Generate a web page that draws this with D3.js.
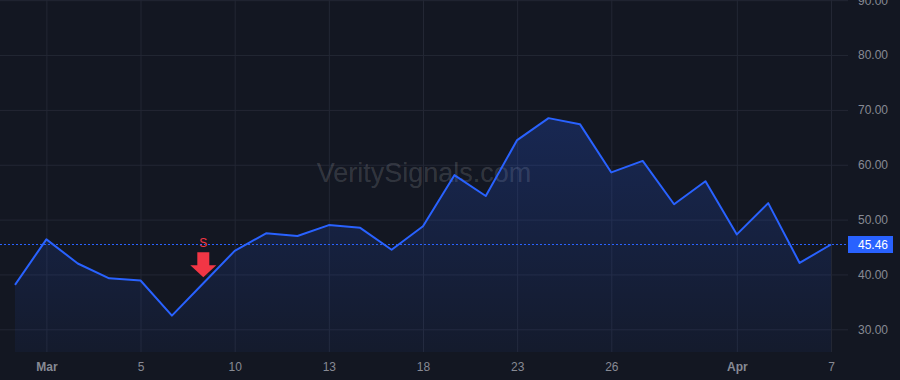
<!DOCTYPE html>
<html>
<head>
<meta charset="utf-8">
<script src="https://cdn.jsdelivr.net/npm/d3@7"></script>
<style>
  html, body { margin: 0; padding: 0; background: #131722; }
  svg { display: block; font-family: "Liberation Sans", Arial, sans-serif; }
</style>
</head>
<body>
<div id="chart"></div>
<script>
// price per bar
const values = [38.1, 46.4, 42.0, 39.3, 38.9, 32.5, 38.4, 44.3, 47.5, 47.0,
                49.0, 48.5, 44.5, 48.8, 58.1, 54.3, 64.5, 68.5, 67.4, 58.6,
                60.7, 52.8, 57.0, 47.3, 53.0, 42.1, 45.46];

// x axis labels: bar index -> text
const tickIdx = [1, 4, 7, 10, 13, 16, 19, 23, 26];
const tickText = ["Mar", "5", "10", "13", "18", "23", "26", "Apr", "7"];
const boldTicks = ["Mar", "Apr"];

const yTicks = [30, 40, 50, 60, 70, 80, 90];

// sell signal
const signalIdx = 6;
const signalText = "S";

const lastPrice = 45.46;

const W = 900, H = 380;
const plot = { left: 0, right: 848, top: 0, bottom: 352 };

const x = d3.scaleLinear().domain([0, values.length - 1]).range([15, 831]);
const y = d3.scaleLinear().domain([30, 90]).range([329.3, 0.2]);

const svg = d3.select("#chart").append("svg")
  .attr("width", W).attr("height", H);

svg.append("rect").attr("width", W).attr("height", H).attr("fill", "#131722");

// grid
const grid = svg.append("g").attr("class", "grid");
grid.append("g")
  .attr("transform", `translate(0,${plot.bottom})`)
  .call(d3.axisBottom(x).tickValues(tickIdx).tickSize(-plot.bottom).tickFormat(""))
  .call(g => g.select(".domain").remove())
  .call(g => g.selectAll("line").attr("stroke", "#232734"));
grid.append("g")
  .call(d3.axisLeft(y).tickValues(yTicks).tickSize(-plot.right).tickFormat(""))
  .call(g => g.select(".domain").remove())
  .call(g => g.selectAll("line").attr("x1", 0).attr("x2", plot.right).attr("stroke", "#232734"));

// watermark
svg.append("text")
  .attr("x", 424).attr("y", 173)
  .attr("text-anchor", "middle").attr("dominant-baseline", "central")
  .attr("font-size", 27)
  .attr("fill", "rgba(255,255,255,0.15)")
  .text("VeritySignals.com");

// area gradient
const defs = svg.append("defs");
const grad = defs.append("linearGradient").attr("id", "areaGrad")
  .attr("gradientUnits", "userSpaceOnUse")
  .attr("x1", 0).attr("x2", 0).attr("y1", y(d3.max(values))).attr("y2", plot.bottom);
grad.append("stop").attr("offset", 0).attr("stop-color", "#2962ff").attr("stop-opacity", 0.22);
grad.append("stop").attr("offset", 1).attr("stop-color", "#2962ff").attr("stop-opacity", 0.05);

const area = d3.area()
  .x((d, i) => x(i))
  .y0(plot.bottom)
  .y1(d => y(d));

svg.append("path").datum(values)
  .attr("d", area)
  .attr("fill", "url(#areaGrad)");

const line = d3.line().x((d, i) => x(i)).y(d => y(d));
svg.append("path").datum(values)
  .attr("d", line)
  .attr("fill", "none")
  .attr("stroke", "#2962ff")
  .attr("stroke-width", 2)
  .attr("stroke-linejoin", "round");

// last price line
svg.append("line")
  .attr("x1", 0).attr("x2", plot.right)
  .attr("y1", y(lastPrice)).attr("y2", y(lastPrice))
  .attr("stroke", "#2962ff").attr("stroke-width", 1)
  .attr("stroke-dasharray", "2,2");

// sell marker
const sx = x(signalIdx), sy = y(values[signalIdx]);
const tip = sy - 6;
svg.append("path")
  .attr("d", `M${sx - 6},${tip - 25} h12 v13 h7 L${sx},${tip} L${sx - 13},${tip - 12} h7 Z`)
  .attr("fill", "#f23645");
svg.append("text")
  .attr("x", sx).attr("y", tip - 34)
  .attr("text-anchor", "middle").attr("dominant-baseline", "central")
  .attr("font-size", 12).attr("fill", "#f23645")
  .text(signalText);

// x axis labels
svg.append("g")
  .attr("transform", `translate(0,${plot.bottom})`)
  .call(d3.axisBottom(x).tickValues(tickIdx).tickSize(0).tickPadding(10)
    .tickFormat((d, i) => tickText[i]))
  .call(g => g.select(".domain").remove())
  .call(g => g.selectAll("text")
    .attr("fill", "#878a94")
    .attr("font-size", 12)
    .attr("font-family", "\"Liberation Sans\", Arial, sans-serif")
    .attr("font-weight", (d, i) => boldTicks.includes(tickText[i]) ? "bold" : "normal"));

// y axis labels
svg.append("g")
  .attr("transform", `translate(${plot.right},0)`)
  .call(d3.axisRight(y).tickValues(yTicks).tickSize(0).tickPadding(10)
    .tickFormat(d3.format(".2f")))
  .call(g => g.select(".domain").remove())
  .call(g => g.selectAll("text")
    .attr("fill", "#878a94")
    .attr("font-size", 12)
    .attr("font-family", "\"Liberation Sans\", Arial, sans-serif"));

// last price label
svg.append("rect")
  .attr("x", plot.right).attr("y", y(lastPrice) - 8.5)
  .attr("width", 45).attr("height", 17)
  .attr("fill", "#2962ff");
svg.append("text")
  .attr("x", plot.right + 10).attr("y", y(lastPrice))
  .attr("dominant-baseline", "central")
  .attr("font-size", 12).attr("fill", "#ffffff")
  .text(lastPrice.toFixed(2));
</script>
</body>
</html>
